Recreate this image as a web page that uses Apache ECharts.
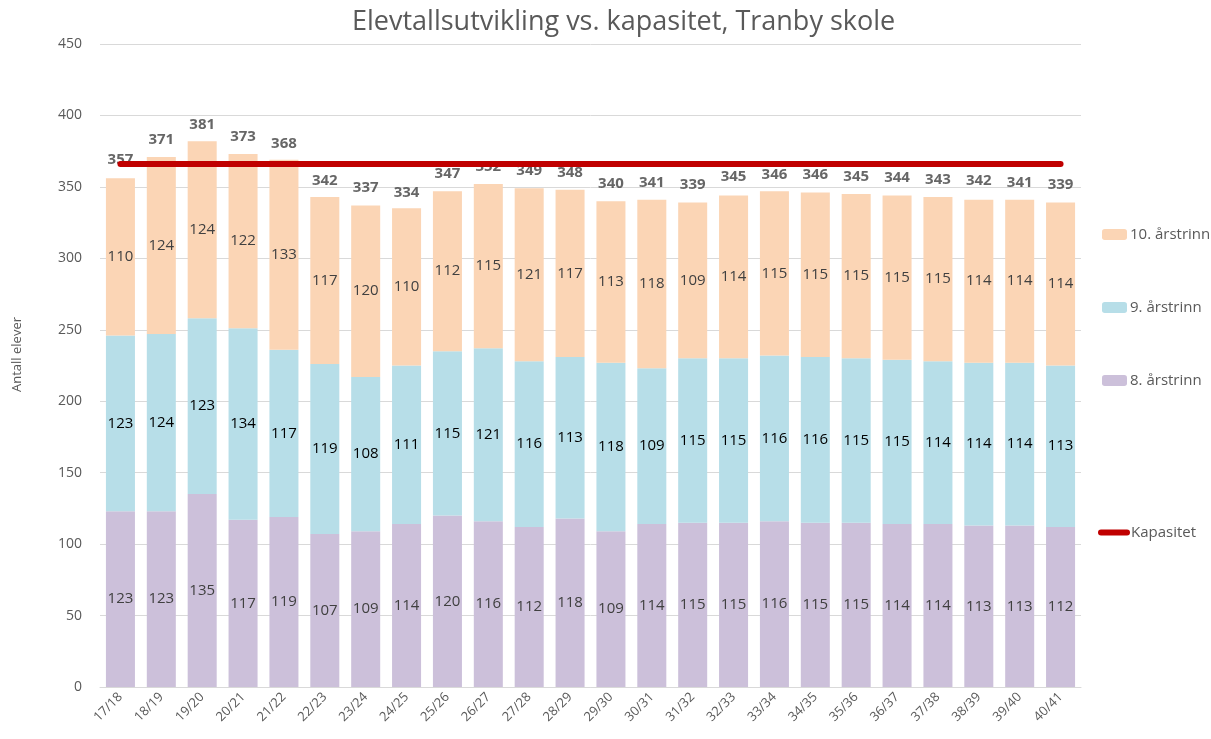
<!DOCTYPE html>
<html>
<head>
    <meta charset="UTF-8">
    <title>Elevtallsutvikling</title>
    <script type="text/javascript" src="https://cdn.jsdelivr.net/npm/echarts@6/dist/echarts.min.js"></script>
    <style>
        html, body { margin: 0; padding: 0; background: #fff; }
        #chart { width: 1211px; height: 739px; }
    </style>
</head>
<body>
    <div id="chart"></div>
    <script>
        // skoleår
        var years = ['17/18', '18/19', '19/20', '20/21', '21/22', '22/23', '23/24', '24/25',
            '25/26', '26/27', '27/28', '28/29', '29/30', '30/31', '31/32', '32/33',
            '33/34', '34/35', '35/36', '36/37', '37/38', '38/39', '39/40', '40/41'];
        var trinn8 = [123, 123, 135, 117, 119, 107, 109, 114, 120, 116, 112, 118,
            109, 114, 115, 115, 116, 115, 115, 114, 114, 113, 113, 112];
        var trinn9 = [123, 124, 123, 134, 117, 119, 108, 111, 115, 121, 116, 113,
            118, 109, 115, 115, 116, 116, 115, 115, 114, 114, 114, 113];
        var trinn10 = [110, 124, 124, 122, 133, 117, 120, 110, 112, 115, 121, 117,
            113, 118, 109, 114, 115, 115, 115, 115, 115, 114, 114, 114];
        var totalt = [357, 371, 381, 373, 368, 342, 337, 334, 347, 352, 349, 348,
            340, 341, 339, 345, 346, 346, 345, 344, 343, 342, 341, 339];
        var kapasitet = 366;

        var font = 'Open Sans';
        var grey = '#595959';

        function barSeries(name, data, color, labelColor) {
            return {
                name: name,
                type: 'bar',
                stack: 'elever',
                barWidth: '71%',
                data: data,
                itemStyle: { color: color },
                label: {
                    show: true,
                    position: 'inside',
                    color: labelColor,
                    fontFamily: font,
                    fontSize: 15
                }
            };
        }

        var chart = echarts.init(document.getElementById('chart'), null, { renderer: 'canvas' });
        var option = {
            animation: false,
            title: {
                text: 'Elevtallsutvikling vs. kapasitet, Tranby skole',
                left: 347,
                top: 4,
                textStyle: { color: grey, fontFamily: font, fontSize: 27, fontWeight: 'normal' }
            },
            legend: [
                {
                    orient: 'vertical',
                    left: 1097,
                    top: 222,
                    itemGap: 58,
                    itemWidth: 25,
                    itemHeight: 11,
                    data: ['10. årstrinn', '9. årstrinn', '8. årstrinn'],
                    textStyle: { color: grey, fontFamily: font, fontSize: 15, padding: [0, 0, 0, -2] }
                },
                {
                    orient: 'vertical',
                    left: 1093,
                    top: 520,
                    itemWidth: 32,
                    itemHeight: 6,
                    data: [{
                        name: 'Kapasitet',
                        icon: 'path://M3,0 L29,0 A3,3 0 0 1 29,6 L3,6 A3,3 0 0 1 3,0 Z'
                    }],
                    textStyle: { color: grey, fontFamily: font, fontSize: 15, padding: [0, 0, 0, -4] }
                }
            ],
            grid: { left: 100, right: 130, top: 44, bottom: 52 },
            xAxis: {
                type: 'category',
                data: years,
                axisLine: { lineStyle: { color: '#d9d9d9', width: 1 } },
                axisTick: { show: false },
                axisLabel: { rotate: 45, color: grey, fontFamily: font, fontSize: 13, margin: 8 }
            },
            yAxis: {
                type: 'value',
                min: 0,
                max: 450,
                interval: 50,
                name: 'Antall elever',
                nameLocation: 'middle',
                nameGap: 76,
                nameTextStyle: { color: grey, fontFamily: font, fontSize: 13, padding: [0, 0, 0, 22] },
                axisLine: { show: false },
                axisTick: { show: false },
                axisLabel: { color: grey, fontFamily: font, fontSize: 14, margin: 18 },
                splitLine: { lineStyle: { color: '#d9d9d9' } }
            },
            series: [
                barSeries('8. årstrinn', trinn8, '#ccc0da', '#404040'),
                barSeries('9. årstrinn', trinn9, '#b7dee8', '#000000'),
                barSeries('10. årstrinn', trinn10, '#fbd5b5', '#404040'),
                {
                    name: 'Totalt',
                    type: 'scatter',
                    data: totalt,
                    symbolSize: 0,
                    silent: true,
                    label: {
                        show: true,
                        position: 'top',
                        distance: 10,
                        color: '#404040',
                        fontFamily: font,
                        fontSize: 15,
                        fontWeight: 'bold'
                    }
                },
                {
                    name: 'Kapasitet',
                    type: 'line',
                    data: years.map(function () { return kapasitet; }),
                    symbol: 'none',
                    z: 5,
                    lineStyle: { color: '#c00000', width: 6, cap: 'round' },
                    itemStyle: { color: '#c00000' }
                }
            ]
        };
        chart.setOption(option);
    </script>
</body>
</html>
